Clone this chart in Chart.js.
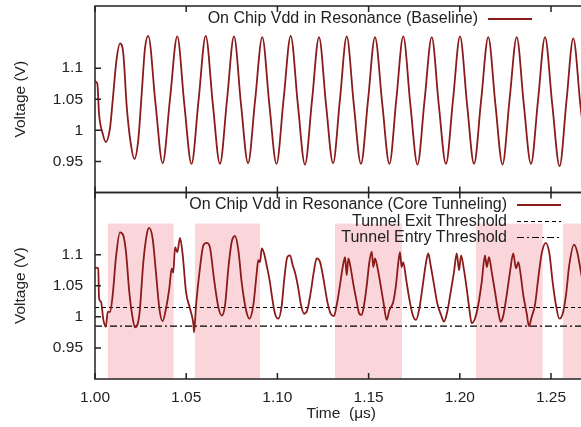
<!DOCTYPE html>
<html>
<head>
<meta charset="utf-8">
<script src="https://cdn.jsdelivr.net/npm/chart.js@4"></script>
<style>
  html, body { margin: 0; padding: 0; background: #fff; overflow: hidden; }
  canvas { display: block; }
</style>
</head>
<body>
<canvas id="vdd" width="600" height="427"></canvas>
<script>
// time in microseconds, voltage in volts
const baselineTime = [
  1.0000, 1.0013, 1.0022, 1.0042, 1.0059, 1.0082, 1.0097, 1.0119, 1.0137,
  1.0155, 1.0174, 1.0196, 1.0216, 1.0237, 1.0256, 1.0274, 1.0292,
  1.0332, 1.0371, 1.0411, 1.0451,
  1.0490, 1.0529, 1.0568, 1.0607,
  1.0646, 1.0685, 1.0724, 1.0762,
  1.0801, 1.0839, 1.0878, 1.0917,
  1.0956, 1.0995, 1.1034, 1.1073,
  1.1112, 1.1151, 1.1190, 1.1228,
  1.1267, 1.1305, 1.1343, 1.1380,
  1.1419, 1.1458, 1.1497, 1.1535,
  1.1575, 1.1614, 1.1652, 1.1690,
  1.1729, 1.1768, 1.1807, 1.1846,
  1.1885, 1.1924, 1.1963, 1.2001,
  1.2040, 1.2078, 1.2117, 1.2156,
  1.2195, 1.2234, 1.2273, 1.2312,
  1.2351, 1.2390, 1.2429, 1.2467,
  1.2507, 1.2547, 1.2585, 1.2622,
  1.2662, 1.2701
];
const baselineVolt = [
  1.079, 1.075, 1.027, 0.995, 0.981, 1.003, 1.048, 1.116, 1.140,
  1.124, 1.038, 0.979, 0.954, 0.984, 1.059, 1.132, 1.152,
  1.042, 0.947, 1.050, 1.151,
  1.041, 0.946, 1.049, 1.152,
  1.042, 0.946, 1.050, 1.151,
  1.040, 0.947, 1.049, 1.150,
  1.041, 0.946, 1.050, 1.152,
  1.042, 0.945, 1.049, 1.150,
  1.040, 0.947, 1.050, 1.151,
  1.041, 0.946, 1.049, 1.150,
  1.042, 0.946, 1.050, 1.151,
  1.041, 0.945, 1.049, 1.150,
  1.040, 0.946, 1.050, 1.151,
  1.041, 0.946, 1.049, 1.150,
  1.042, 0.945, 1.050, 1.150,
  1.041, 0.946, 1.049, 1.150,
  1.041, 0.942, 1.048, 1.148,
  1.038, 0.946
];

const tunnelTime = [
  1.0000, 1.0005, 1.0018, 1.0022, 1.0033, 1.0046, 1.0059, 1.0070, 1.0082, 1.0097,
  1.0115, 1.0137, 1.0155, 1.0170, 1.0188, 1.0207, 1.0219, 1.0243, 1.0265, 1.0283,
  1.0296, 1.0316, 1.0334, 1.0353, 1.0371, 1.0389, 1.0407, 1.0421, 1.0429, 1.0439,
  1.0451, 1.0466, 1.0481, 1.0499, 1.0521, 1.0539, 1.0543, 1.0554, 1.0576, 1.0594,
  1.0612, 1.0630, 1.0652, 1.0676, 1.0695, 1.0713, 1.0731, 1.0749, 1.0768, 1.0786,
  1.0804, 1.0828, 1.0846, 1.0868, 1.0887, 1.0895, 1.0905, 1.0914, 1.0927, 1.0941,
  1.0959, 1.0969, 1.0987, 1.1005, 1.1024, 1.1036, 1.1054, 1.1069, 1.1084, 1.1096,
  1.1115, 1.1128, 1.1146, 1.1164, 1.1183, 1.1201, 1.1215, 1.1234, 1.1252, 1.1274,
  1.1292, 1.1310, 1.1325, 1.1343, 1.1358, 1.1371, 1.1380, 1.1389, 1.1402, 1.1416,
  1.1435, 1.1449, 1.1462, 1.1475, 1.1490, 1.1504, 1.1517, 1.1526, 1.1535, 1.1548,
  1.1563, 1.1581, 1.1599, 1.1614, 1.1635, 1.1650, 1.1663, 1.1672, 1.1681, 1.1690,
  1.1705, 1.1723, 1.1742, 1.1760, 1.1778, 1.1797, 1.1815, 1.1827, 1.1840, 1.1859,
  1.1877, 1.1901, 1.1913, 1.1931, 1.1950, 1.1968, 1.1983, 1.1996, 1.2007, 1.2023,
  1.2038, 1.2052, 1.2065, 1.2083, 1.2101, 1.2120, 1.2138, 1.2148, 1.2160, 1.2175,
  1.2193, 1.2211, 1.2224, 1.2239, 1.2257, 1.2275, 1.2293, 1.2308, 1.2321, 1.2334,
  1.2348, 1.2367, 1.2379, 1.2394, 1.2412, 1.2430, 1.2449, 1.2471, 1.2491, 1.2509,
  1.2527, 1.2546, 1.2564, 1.2582, 1.2600, 1.2626, 1.2644, 1.2664, 1.2686, 1.2705
];
const tunnelVolt = [
  1.079, 1.079, 1.078, 1.030, 1.024, 0.995, 0.984, 1.008, 1.008, 1.035,
  1.096, 1.136, 1.131, 1.104, 1.040, 0.997, 0.983, 1.003, 1.088, 1.131,
  1.143, 1.126, 1.072, 1.013, 0.993, 1.013, 1.045, 1.078, 1.071, 1.112,
  1.104, 1.127, 1.099, 1.040, 1.013, 0.989, 0.975, 1.019, 1.080, 1.115,
  1.119, 1.112, 1.062, 1.016, 1.002, 1.019, 1.078, 1.120, 1.130, 1.107,
  1.056, 1.011, 0.997, 1.019, 1.072, 1.091, 1.088, 1.110, 1.102, 1.083,
  1.056, 1.035, 1.005, 0.997, 1.019, 1.056, 1.096, 1.099, 1.083, 1.072,
  1.045, 1.021, 1.005, 1.011, 1.040, 1.075, 1.094, 1.088, 1.062, 1.024,
  1.005, 1.001, 1.019, 1.051, 1.080, 1.096, 1.067, 1.094, 1.078, 1.053,
  1.024, 1.005, 1.003, 1.019, 1.051, 1.088, 1.105, 1.080, 1.094, 1.080,
  1.056, 1.024, 0.995, 1.011, 1.024, 1.051, 1.088, 1.104, 1.080, 1.088,
  1.062, 1.029, 1.003, 0.995, 1.013, 1.051, 1.088, 1.102, 1.083, 1.051,
  1.021, 1.000, 0.992, 1.008, 1.040, 1.072, 1.102, 1.075, 1.099, 1.075,
  1.045, 1.013, 0.990, 0.997, 1.019, 1.056, 1.099, 1.080, 1.096, 1.072,
  1.040, 1.008, 0.992, 1.003, 1.035, 1.072, 1.102, 1.078, 1.088, 1.067,
  1.035, 1.005, 0.985, 1.000, 1.019, 1.062, 1.102, 1.119, 1.102, 1.056,
  1.019, 0.997, 1.005, 1.035, 1.083, 1.116, 1.104, 1.072, 1.040, 1.020
];

// shaded tunneling windows
const tunnelStart = [1.0070, 1.0548, 1.1316, 1.2089, 1.2566];
const tunnelEnd = [1.0431, 1.0905, 1.1683, 1.2454, 1.3000];
const tunnelBand = [0.90, 1.15];

const exitThreshold = 1.015;
const entryThreshold = 0.985;

const timeTicks = [1.00, 1.05, 1.10, 1.15, 1.20, 1.25];
const voltTicks = [0.95, 1, 1.05, 1.1];
const timeRange = [1.00, 1.27];
const voltRange = [0.90, 1.20];

const DARK_RED = '#8b1a1a';
const INK = '#222';
const FONT = '"Liberation Sans", Arial, Helvetica, sans-serif';

const toPoints = (xs, ys) => xs.map((x, i) => ({ x, y: ys[i] }));

const voltAxis = () => ({
  type: 'linear',
  position: 'left',
  stack: 'panels',
  stackWeight: 1,
  min: voltRange[0],
  max: voltRange[1],
  grid: { display: false, drawTicks: false },
  border: { display: false },
  afterBuildTicks: s => { s.ticks = voltTicks.map(v => ({ value: v })); },
  afterFit: s => { s.width = 95; s.paddingTop = 0; s.paddingBottom = 0; },
  ticks: { color: INK, font: { family: FONT, size: 15.5 }, padding: 12, callback: v => String(v) },
  title: { display: true, text: 'Voltage (V)', color: INK, font: { family: FONT, size: 15.5 }, padding: { top: 11, bottom: 0 } }
});

const panelDecor = {
  id: 'panelDecor',
  beforeDatasetsDraw(chart) {
    const { ctx, chartArea, scales: { x, yBottom } } = chart;
    ctx.save();
    ctx.beginPath();
    ctx.rect(chartArea.left, chartArea.top, chartArea.right - chartArea.left, chartArea.bottom - chartArea.top);
    ctx.clip();
    ctx.fillStyle = '#fad5d9';
    const y0 = yBottom.getPixelForValue(tunnelBand[1]);
    const y1 = yBottom.getPixelForValue(tunnelBand[0]);
    tunnelStart.forEach((s, i) => {
      const x0 = x.getPixelForValue(s);
      const x1 = x.getPixelForValue(tunnelEnd[i]);
      ctx.fillRect(x0, y0, x1 - x0, y1 - y0);
    });
    ctx.restore();
  },
  afterDatasetsDraw(chart) {
    const { ctx, chartArea, scales: { x, yTop, yBottom } } = chart;
    const { left, right } = chartArea;
    ctx.save();
    ctx.strokeStyle = INK;
    ctx.lineWidth = 1.5;

    [yTop, yBottom].forEach(y => {
      ctx.strokeRect(left, y.top, right - left, y.bottom - y.top);
      ctx.beginPath();
      timeTicks.forEach(t => {
        const px = x.getPixelForValue(t);
        ctx.moveTo(px, y.bottom); ctx.lineTo(px, y.bottom - 6);
        ctx.moveTo(px, y.top); ctx.lineTo(px, y.top + 6);
      });
      voltTicks.forEach(v => {
        const py = y.getPixelForValue(v);
        ctx.moveTo(left, py); ctx.lineTo(left + 6, py);
        ctx.moveTo(right, py); ctx.lineTo(right - 6, py);
      });
      ctx.stroke();
    });

    // keys
    ctx.font = '16px ' + FONT;
    ctx.fillStyle = INK;
    ctx.textAlign = 'right';
    ctx.textBaseline = 'middle';
    const key = (label, textRight, y, color, dash) => {
      ctx.fillText(label, textRight, y);
      ctx.beginPath();
      ctx.strokeStyle = color;
      ctx.lineWidth = color === DARK_RED ? 1.8 : 1.2;
      ctx.setLineDash(dash);
      ctx.moveTo(textRight + 10, y);
      ctx.lineTo(textRight + 54, y);
      ctx.stroke();
      ctx.setLineDash([]);
    };
    key('On Chip Vdd in Resonance (Baseline)', right - 109.5, yTop.top + 13, DARK_RED, []);
    key('On Chip Vdd in Resonance (Core Tunneling)', right - 80.5, yBottom.top + 12.5, DARK_RED, []);
    key('Tunnel Exit Threshold', right - 80.5, yBottom.top + 29, '#000', [4, 3]);
    key('Tunnel Entry Threshold', right - 80.5, yBottom.top + 45, '#000', [7, 3, 2, 3]);
    ctx.restore();
  }
};

new Chart(document.getElementById('vdd'), {
  type: 'line',
  data: {
    datasets: [
      {
        label: 'On Chip Vdd in Resonance (Baseline)',
        data: toPoints(baselineTime, baselineVolt),
        yAxisID: 'yTop',
        borderColor: DARK_RED,
        borderWidth: 1.8,
        pointRadius: 0,
        cubicInterpolationMode: 'monotone'
      },
      {
        label: 'On Chip Vdd in Resonance (Core Tunneling)',
        data: toPoints(tunnelTime, tunnelVolt),
        yAxisID: 'yBottom',
        borderColor: DARK_RED,
        borderWidth: 1.8,
        pointRadius: 0,
        cubicInterpolationMode: 'monotone'
      },
      {
        label: 'Tunnel Exit Threshold',
        data: toPoints(timeRange, [exitThreshold, exitThreshold]),
        yAxisID: 'yBottom',
        borderColor: '#000',
        borderWidth: 1.2,
        borderDash: [4, 3],
        pointRadius: 0
      },
      {
        label: 'Tunnel Entry Threshold',
        data: toPoints(timeRange, [entryThreshold, entryThreshold]),
        yAxisID: 'yBottom',
        borderColor: '#000',
        borderWidth: 1.2,
        borderDash: [7, 3, 2, 3],
        pointRadius: 0
      }
    ]
  },
  options: {
    responsive: false,
    animation: false,
    devicePixelRatio: 1,
    layout: { padding: { top: 6, right: 12.5, left: 0, bottom: 0 } },
    plugins: { legend: { display: false }, tooltip: { enabled: false } },
    scales: {
      x: {
        type: 'linear',
        position: 'bottom',
        min: timeRange[0],
        max: timeRange[1],
        grid: { display: false, drawTicks: false },
        border: { display: false },
        afterBuildTicks: s => { s.ticks = timeTicks.map(v => ({ value: v })); },
        afterFit: s => { s.height = 48; s.paddingLeft = 0; s.paddingRight = 0; },
        ticks: { color: INK, font: { family: FONT, size: 15.5 }, padding: 9, maxRotation: 0, callback: v => v.toFixed(2) },
        title: { display: true, text: 'Time  (\u03bcs)', color: INK, font: { family: FONT, size: 15.5 }, padding: { top: 0, bottom: 4 } }
      },
      yBottom: voltAxis(),
      yTop: voltAxis()
    }
  },
  plugins: [panelDecor]
});
</script>
</body>
</html>
